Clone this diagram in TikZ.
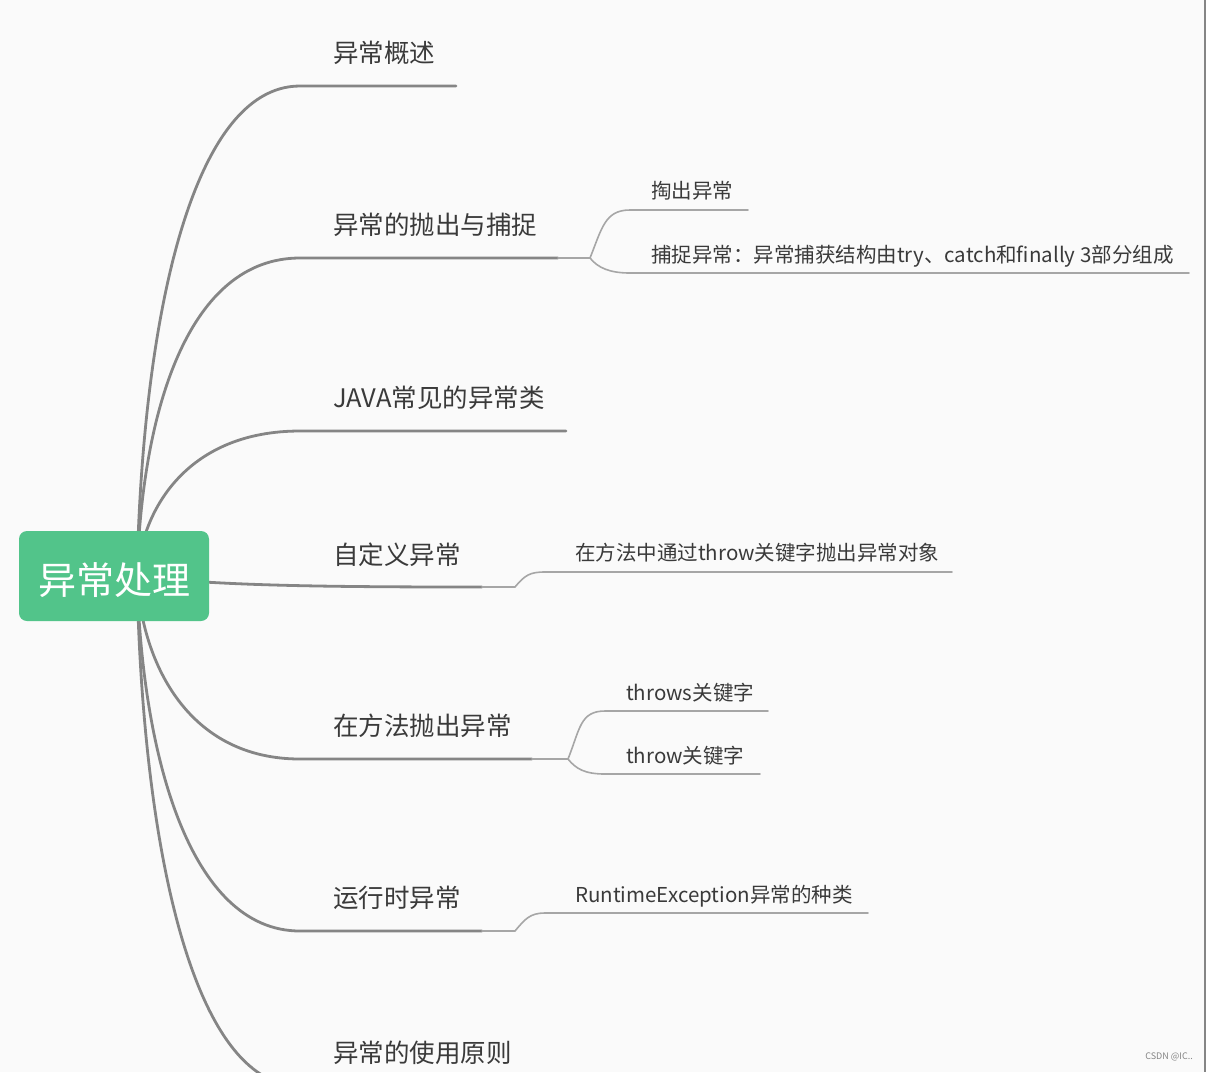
\documentclass[tikz,border=0pt]{standalone}
\usepackage{fontspec}
\setmainfont{Noto Sans CJK SC}
\usetikzlibrary{positioning, calc}

\definecolor{bgcol}{HTML}{FAFAFA}
\definecolor{rootgreen}{HTML}{52C48A}
\definecolor{textgray}{HTML}{3A3A3A}
\definecolor{maingray}{HTML}{858585}
\definecolor{subgray}{HTML}{A6A6A6}

\begin{document}
\begin{tikzpicture}[
    x=1pt, y=-1pt,
    rootbox/.style={rectangle, rounded corners=8pt, fill=rootgreen, text=white, minimum width=190pt, minimum height=90pt, font=\fontsize{38}{44}\selectfont},
    mainlabel/.style={anchor=west, inner sep=0pt, text=textgray, font=\fontsize{25.5}{30}\selectfont},
    sublabel/.style={anchor=west, inner sep=0pt, text=textgray, font=\fontsize{20.5}{24}\selectfont},
    mainline/.style={draw=maingray, line width=2.8pt, line cap=round},
    subline/.style={draw=subgray, line width=1.6pt, line cap=round}
]
\useasboundingbox (0,0) rectangle (1206,1072);
\fill[bgcol] (0,0) rectangle (1206,1072);
\draw[maingray, line width=1.5pt] (1205,0) -- (1205,1072);

% Hub and branch coordinates
\coordinate (hub) at (137,576);
\coordinate (b1s) at (300,86);   \coordinate (b1e) at (456,86);
\coordinate (b2s) at (300,258);  \coordinate (b2e) at (558,258);  \coordinate (f2) at (590,258);
\coordinate (b3s) at (300,431);  \coordinate (b3e) at (566,431);
\coordinate (b4e) at (482,587);  \coordinate (f4) at (515,587);
\coordinate (b5s) at (300,759);  \coordinate (b5e) at (532,759);  \coordinate (f5) at (568,759);
\coordinate (b6s) at (300,931);  \coordinate (b6e) at (482,931);  \coordinate (f6) at (515,931);
\coordinate (b7s) at (300,1086); \coordinate (b7e) at (511,1086);

% Sub-branch coordinates
\coordinate (s21s) at (630,210); \coordinate (s21e) at (748,210);
\coordinate (s22s) at (630,273); \coordinate (s22e) at (1189,273);
\coordinate (s41s) at (545,572); \coordinate (s41e) at (952,572);
\coordinate (s51s) at (605,711); \coordinate (s51e) at (768,711);
\coordinate (s52s) at (605,774); \coordinate (s52e) at (760,774);
\coordinate (s61s) at (545,913); \coordinate (s61e) at (868,913);

% Main branches
\draw[mainline] (hub) .. controls +(5,-250) and +(-110,0) .. (b1s) -- (b1e);
\draw[mainline] (hub) .. controls +(5,-170) and +(-110,0) .. (b2s) -- (b2e);
\draw[mainline] (hub) .. controls +(5,-70) and +(-110,0) .. (b3s) -- (b3e);
\draw[mainline] (hub) .. controls +(80,10) and +(-150,0) .. (b4e);
\draw[mainline] (hub) .. controls +(5,90) and +(-110,0) .. (b5s) -- (b5e);
\draw[mainline] (hub) .. controls +(5,180) and +(-110,0) .. (b6s) -- (b6e);
\draw[mainline] (hub) .. controls +(5,260) and +(-110,0) .. (b7s) -- (b7e);

% Sub branches
\draw[subline] (b2e) -- (f2) .. controls +(12,-30) and +(-25,0) .. (s21s) -- (s21e);
\draw[subline] (f2) .. controls +(8,10) and +(-20,0) .. (s22s) -- (s22e);
\draw[subline] (b4e) -- (f4) .. controls +(10,-12) and +(-15,0) .. (s41s) -- (s41e);
\draw[subline] (b5e) -- (f5) .. controls +(12,-30) and +(-25,0) .. (s51s) -- (s51e);
\draw[subline] (f5) .. controls +(8,10) and +(-20,0) .. (s52s) -- (s52e);
\draw[subline] (b6e) -- (f6) .. controls +(10,-12) and +(-15,0) .. (s61s) -- (s61e);

% Nodes
\node[rootbox] (root) at (114,576) {\raisebox{-18pt}[0pt][0pt]{异常处理}};

\node[mainlabel] (b1) at (333,53) {异常概述};
\node[mainlabel] (b2) at (333,225) {异常的抛出与捕捉};
\node[mainlabel] (b3) at (333,398) {JAVA常见的异常类};
\node[mainlabel] (b4) at (333,555) {自定义异常};
\node[mainlabel] (b5) at (333,726) {在方法抛出异常};
\node[mainlabel] (b6) at (333,898) {运行时异常};
\node[mainlabel] (b7) at (333,1053) {异常的使用原则};

\node[sublabel] (s21) at (651,191) {掏出异常};
\node[sublabel] (s22) at (651,256) {捕捉异常：异常捕获结构由try、catch和finally 3部分组成};
\node[sublabel] (s41) at (575,553) {在方法中通过throw关键字抛出异常对象};
\node[sublabel] (s51) at (626,693) {throws关键字};
\node[sublabel] (s52) at (626,756) {throw关键字};
\node[sublabel] (s61) at (575,896) {RuntimeException异常的种类};

\node[anchor=east, inner sep=0pt, text=maingray, font=\fontsize{9}{11}\selectfont] (mark) at (1193,1057) {CSDN @IC..};
\end{tikzpicture}
\end{document}
